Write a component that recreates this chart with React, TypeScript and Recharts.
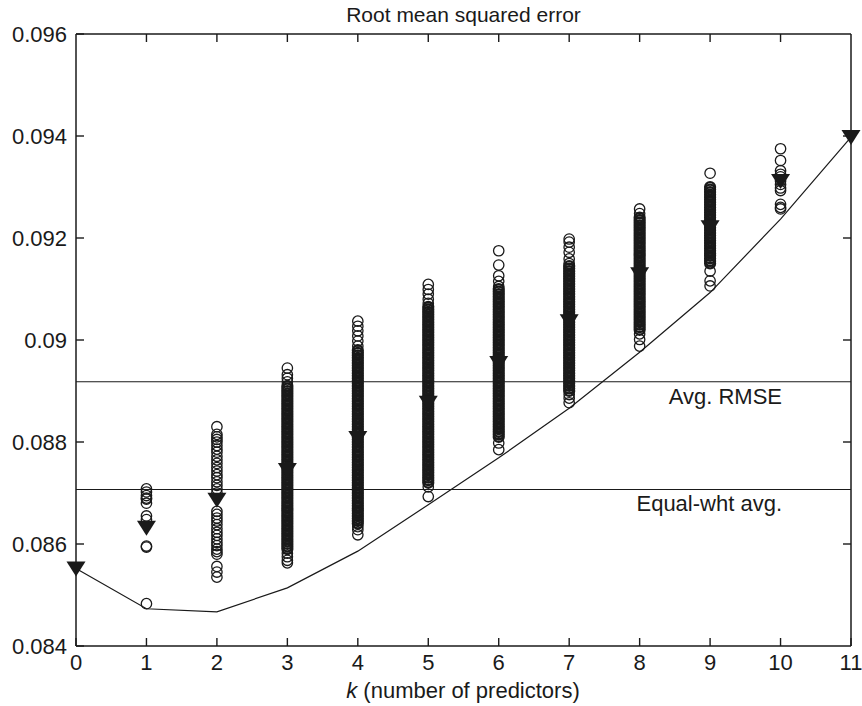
import {
  ComposedChart,
  Line,
  ReferenceLine,
  Scatter,
  XAxis,
  YAxis,
} from "recharts";

const INK = "#1a1a1a";
const FONT = "'Liberation Sans', Arial, Helvetica, sans-serif";

// axis ticks
const kTicks = [0, 1, 2, 3, 4, 5, 6, 7, 8, 9, 10, 11];
const yTicks = [0.084, 0.086, 0.088, 0.09, 0.092, 0.094, 0.096];
const kMax = 11;
const yMax = 0.096;

// RMSE of the models with k predictors.
// "Outer" = the separately visible rings, "core" = the packed, solid-looking part of a column.
const k1Outer = [0.08708, 0.08702, 0.08695, 0.0869, 0.08688, 0.0868, 0.08655, 0.08648, 0.08596, 0.08594, 0.08483];
const k2Outer = [
  0.0883, 0.08815, 0.0881, 0.08805, 0.088, 0.08793, 0.08786, 0.0878, 0.08772, 0.08765, 0.08758, 0.0875,
  0.08743, 0.08736, 0.0873, 0.08722, 0.08715, 0.08708, 0.087, 0.08664, 0.08658, 0.08651, 0.08645, 0.08638,
  0.0863, 0.08623, 0.08617, 0.0861, 0.08603, 0.08597, 0.0859, 0.08585, 0.0858, 0.08556, 0.08545, 0.08535,
];
const k3Outer = [0.08945, 0.08932, 0.08925, 0.08918, 0.08582, 0.08575, 0.08568, 0.08563];
const k3Core = [
  0.0891, 0.08905, 0.089, 0.08895, 0.0889, 0.08885, 0.0888, 0.08875, 0.0887, 0.08865, 0.0886, 0.08855,
  0.0885, 0.08845, 0.0884, 0.08835, 0.0883, 0.08825, 0.0882, 0.08815, 0.0881, 0.08805, 0.088, 0.08795,
  0.0879, 0.08785, 0.0878, 0.08775, 0.0877, 0.08765, 0.0876, 0.08755, 0.0875, 0.08745, 0.0874, 0.08735,
  0.0873, 0.08725, 0.0872, 0.08715, 0.0871, 0.08705, 0.087, 0.08695, 0.0869, 0.08685, 0.0868, 0.08675,
  0.0867, 0.08665, 0.0866, 0.08655, 0.0865, 0.08645, 0.0864, 0.08635, 0.0863, 0.08625, 0.0862, 0.08615,
  0.0861, 0.08605, 0.086, 0.08595, 0.0859,
];
const k4Outer = [0.09037, 0.09027, 0.09018, 0.09008, 0.08998, 0.08988, 0.08634, 0.08628, 0.08618];
const k4Core = [
  0.0898, 0.08975, 0.0897, 0.08965, 0.0896, 0.08955, 0.0895, 0.08945, 0.0894, 0.08935, 0.0893, 0.08925,
  0.0892, 0.08915, 0.0891, 0.08905, 0.089, 0.08895, 0.0889, 0.08885, 0.0888, 0.08875, 0.0887, 0.08865,
  0.0886, 0.08855, 0.0885, 0.08845, 0.0884, 0.08835, 0.0883, 0.08825, 0.0882, 0.08815, 0.0881, 0.08805,
  0.088, 0.08795, 0.0879, 0.08785, 0.0878, 0.08775, 0.0877, 0.08765, 0.0876, 0.08755, 0.0875, 0.08745,
  0.0874, 0.08735, 0.0873, 0.08725, 0.0872, 0.08715, 0.0871, 0.08705, 0.087, 0.08695, 0.0869, 0.08685,
  0.0868, 0.08675, 0.0867, 0.08665, 0.0866, 0.08655, 0.0865, 0.08645, 0.0864,
];
const k5Outer = [0.09109, 0.09099, 0.0909, 0.0908, 0.09072, 0.08712, 0.08693];
const k5Core = [
  0.09065, 0.0906, 0.09055, 0.0905, 0.09045, 0.0904, 0.09035, 0.0903, 0.09025, 0.0902, 0.09015, 0.0901,
  0.09005, 0.09, 0.08995, 0.0899, 0.08985, 0.0898, 0.08975, 0.0897, 0.08965, 0.0896, 0.08955, 0.0895,
  0.08945, 0.0894, 0.08935, 0.0893, 0.08925, 0.0892, 0.08915, 0.0891, 0.08905, 0.089, 0.08895, 0.0889,
  0.08885, 0.0888, 0.08875, 0.0887, 0.08865, 0.0886, 0.08855, 0.0885, 0.08845, 0.0884, 0.08835, 0.0883,
  0.08825, 0.0882, 0.08815, 0.0881, 0.08805, 0.088, 0.08795, 0.0879, 0.08785, 0.0878, 0.08775, 0.0877,
  0.08765, 0.0876, 0.08755, 0.0875, 0.08745, 0.0874, 0.08735, 0.0873, 0.08725, 0.0872,
];
const k6Outer = [0.09175, 0.09147, 0.09126, 0.09115, 0.09105, 0.08798, 0.08785];
const k6Core = [
  0.091, 0.09095, 0.0909, 0.09085, 0.0908, 0.09075, 0.0907, 0.09065, 0.0906, 0.09055, 0.0905, 0.09045,
  0.0904, 0.09035, 0.0903, 0.09025, 0.0902, 0.09015, 0.0901, 0.09005, 0.09, 0.08995, 0.0899, 0.08985,
  0.0898, 0.08975, 0.0897, 0.08965, 0.0896, 0.08955, 0.0895, 0.08945, 0.0894, 0.08935, 0.0893, 0.08925,
  0.0892, 0.08915, 0.0891, 0.08905, 0.089, 0.08895, 0.0889, 0.08885, 0.0888, 0.08875, 0.0887, 0.08865,
  0.0886, 0.08855, 0.0885, 0.08845, 0.0884, 0.08835, 0.0883, 0.08825, 0.0882, 0.08815, 0.0881,
];
const k7Outer = [0.09198, 0.09192, 0.09182, 0.09172, 0.09159, 0.0915, 0.08893, 0.08886, 0.08877];
const k7Core = [
  0.09145, 0.0914, 0.09135, 0.0913, 0.09125, 0.0912, 0.09115, 0.0911, 0.09105, 0.091, 0.09095, 0.0909,
  0.09085, 0.0908, 0.09075, 0.0907, 0.09065, 0.0906, 0.09055, 0.0905, 0.09045, 0.0904, 0.09035, 0.0903,
  0.09025, 0.0902, 0.09015, 0.0901, 0.09005, 0.09, 0.08995, 0.0899, 0.08985, 0.0898, 0.08975, 0.0897,
  0.08965, 0.0896, 0.08955, 0.0895, 0.08945, 0.0894, 0.08935, 0.0893, 0.08925, 0.0892, 0.08915, 0.0891,
  0.08905, 0.089,
];
const k8Outer = [0.09257, 0.09248, 0.09012, 0.09001, 0.08988];
const k8Core = [
  0.0924, 0.09235, 0.0923, 0.09225, 0.0922, 0.09215, 0.0921, 0.09205, 0.092, 0.09195, 0.0919, 0.09185,
  0.0918, 0.09175, 0.0917, 0.09165, 0.0916, 0.09155, 0.0915, 0.09145, 0.0914, 0.09135, 0.0913, 0.09125,
  0.0912, 0.09115, 0.0911, 0.09105, 0.091, 0.09095, 0.0909, 0.09085, 0.0908, 0.09075, 0.0907, 0.09065,
  0.0906, 0.09055, 0.0905, 0.09045, 0.0904, 0.09035, 0.0903, 0.09025, 0.0902,
];
const k9Outer = [0.09327, 0.09135, 0.09116, 0.09106];
const k9Core = [
  0.093, 0.09295, 0.0929, 0.09285, 0.0928, 0.09275, 0.0927, 0.09265, 0.0926, 0.09255, 0.0925, 0.09245,
  0.0924, 0.09235, 0.0923, 0.09225, 0.0922, 0.09215, 0.0921, 0.09205, 0.092, 0.09195, 0.0919, 0.09185,
  0.0918, 0.09175, 0.0917, 0.09165, 0.0916, 0.09155, 0.0915,
];
const k10Outer = [0.09375, 0.09352, 0.09332, 0.09325, 0.0932, 0.09312, 0.09305, 0.09298, 0.09293, 0.09266, 0.0926, 0.09257];

// average RMSE over the models of each size (filled triangles)
const meanRmse = [0.08632, 0.08687, 0.08745, 0.08808, 0.08877, 0.08955, 0.09037, 0.09129, 0.09221, 0.09312];

// lower envelope curve, k = 0..11
const curveRmse = [0.08552, 0.08473, 0.08467, 0.08514, 0.08586, 0.08677, 0.08769, 0.08866, 0.08976, 0.09093, 0.09237, 0.09398];

const avgRmse = 0.08918;
const equalWht = 0.08707;

const outerByK = [k1Outer, k2Outer, k3Outer, k4Outer, k5Outer, k6Outer, k7Outer, k8Outer, k9Outer, k10Outer];
const coreByK = [[], [], k3Core, k4Core, k5Core, k6Core, k7Core, k8Core, k9Core, []];

const outerPoints = outerByK.flatMap((vals, i) => vals.map((v) => ({ k: i + 1, v })));
const corePoints = coreByK.flatMap((vals: number[], i) => vals.map((v) => ({ k: i + 1, v })));
const meanPoints = meanRmse.map((v, i) => ({ k: i + 1, v }));
const curvePoints = curveRmse.map((v, k) => ({ k, v }));
const endPoints = [curvePoints[0], curvePoints[curvePoints.length - 1]];

const Ring = (p: any) => (
  <circle cx={p.cx} cy={p.cy} r={5.2} fill="none" stroke={INK} strokeWidth={1.3} />
);

const PackedRing = (p: any) => (
  <circle cx={p.cx} cy={p.cy} r={4.9} fill="none" stroke={INK} strokeWidth={2.4} />
);

const DownTri = (p: any) => (
  <path
    d={`M${p.cx - 9.5},${p.cy - 7}L${p.cx + 9.5},${p.cy - 7}L${p.cx},${p.cy + 8}Z`}
    fill={INK}
  />
);

// short inward tick at the top end of a vertical reference line
const TopTickMark = (p: any) => {
  const top = Math.min(p.y1, p.y2);
  return <line x1={p.x1} y1={top} x2={p.x1} y2={top + 8} stroke={INK} strokeWidth={1.4} />;
};

// short inward tick at the right end of a horizontal reference line
const RightTickMark = (p: any) => {
  const right = Math.max(p.x1, p.x2);
  return <line x1={right} y1={p.y1} x2={right - 8} y2={p.y1} stroke={INK} strokeWidth={1.4} />;
};

function BottomTick({ x, y, payload }: any) {
  return (
    <g>
      <line x1={x} y1={y} x2={x} y2={y - 8} stroke={INK} strokeWidth={1.4} />
      <text x={x} y={y + 24} textAnchor="middle" fontSize={22} fontFamily={FONT} fill={INK}>
        {payload.value}
      </text>
    </g>
  );
}

function LeftTick({ x, y, payload }: any) {
  return (
    <g>
      <line x1={x} y1={y} x2={x + 8} y2={y} stroke={INK} strokeWidth={1.4} />
      <text x={x - 9} y={y + 8} textAnchor="end" fontSize={22} fontFamily={FONT} fill={INK}>
        {String(payload.value)}
      </text>
    </g>
  );
}

function LineTag({ viewBox, text }: any) {
  const { x, y, width } = viewBox;
  return (
    <text x={x + width - 69} y={y + 22} textAnchor="end" fontSize={22} fontFamily={FONT} fill={INK}>
      {text}
    </text>
  );
}

export default function App() {
  const axisLine = { stroke: INK, strokeWidth: 1.5 };
  return (
    <div style={{ position: "absolute", left: 0, top: 0, width: 862, height: 706, background: "#fff" }}>
      <ComposedChart width={862} height={706} margin={{ top: 34, right: 11, bottom: 0, left: 0 }}>
        <XAxis
          dataKey="k"
          type="number"
          domain={[0, kMax]}
          ticks={kTicks}
          interval={0}
          height={60}
          tickSize={0}
          tickMargin={0}
          tickLine={false}
          axisLine={axisLine}
          tick={<BottomTick />}
        />
        <YAxis
          dataKey="v"
          type="number"
          domain={[0.084, yMax]}
          ticks={yTicks}
          interval={0}
          width={76}
          tickSize={0}
          tickMargin={0}
          tickLine={false}
          axisLine={axisLine}
          tick={<LeftTick />}
        />
        {/* box: top and right frame lines with inward ticks */}
        <ReferenceLine y={yMax} stroke={INK} strokeWidth={1.5} ifOverflow="visible" />
        <ReferenceLine x={kMax} stroke={INK} strokeWidth={1.5} ifOverflow="visible" />
        {kTicks.slice(1, -1).map((k) => (
          <ReferenceLine key={`tx${k}`} x={k} shape={TopTickMark} />
        ))}
        {yTicks.slice(1, -1).map((v) => (
          <ReferenceLine key={`ty${v}`} y={v} shape={RightTickMark} />
        ))}
        <ReferenceLine y={avgRmse} stroke={INK} strokeWidth={1.1} label={<LineTag text="Avg. RMSE" />} />
        <ReferenceLine y={equalWht} stroke={INK} strokeWidth={1.1} label={<LineTag text="Equal-wht avg." />} />
        <Line
          data={curvePoints}
          dataKey="v"
          type="linear"
          stroke={INK}
          strokeWidth={1.2}
          dot={false}
          activeDot={false}
          isAnimationActive={false}
        />
        <Scatter data={corePoints} dataKey="v" shape={PackedRing} isAnimationActive={false} />
        <Scatter data={outerPoints} dataKey="v" shape={Ring} isAnimationActive={false} />
        <Scatter data={meanPoints} dataKey="v" shape={DownTri} isAnimationActive={false} />
        <Scatter data={endPoints} dataKey="v" shape={DownTri} isAnimationActive={false} />
      </ComposedChart>
      <svg
        width={862}
        height={706}
        style={{ position: "absolute", left: 0, top: 0, pointerEvents: "none" }}
      >
        <text x={463.5} y={21.5} textAnchor="middle" fontSize={21} fontFamily={FONT} fill={INK}>
          Root mean squared error
        </text>
        <text x={463} y={698} textAnchor="middle" fontSize={22} fontFamily={FONT} fill={INK}>
          <tspan fontStyle="italic">k</tspan> (number of predictors)
        </text>
      </svg>
    </div>
  );
}
